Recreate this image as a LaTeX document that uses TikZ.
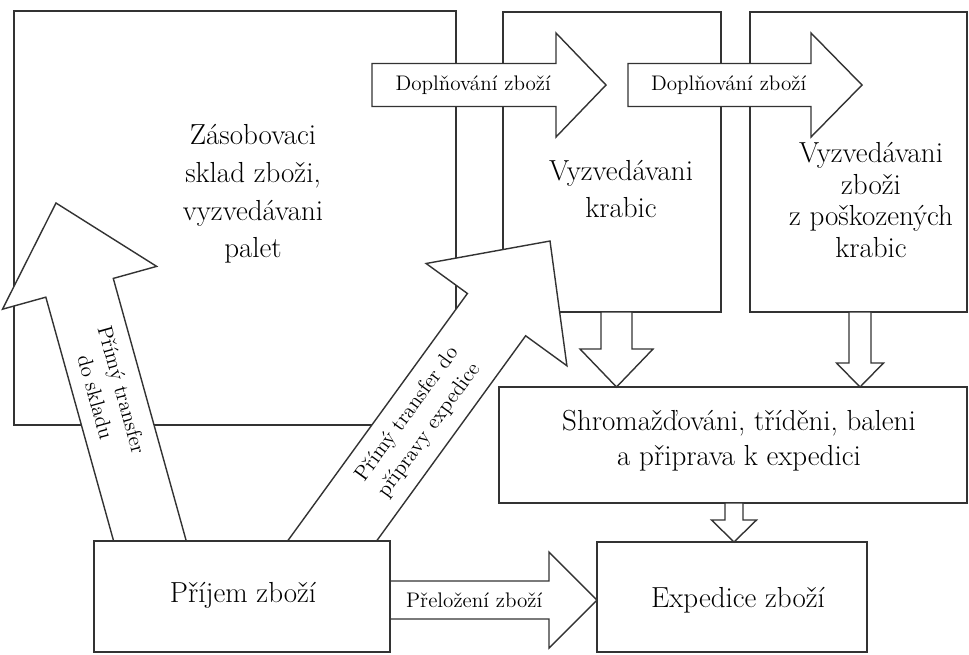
\documentclass[tikz,border=0pt]{standalone}
\usepackage{fontspec}
\usetikzlibrary{calc,fit}

\tikzset{
  box/.style={draw=black!80, line width=0.9pt, fill=white, inner sep=0pt},
  fatarrow/.style={draw=black!80, line width=0.8pt, fill=white, line join=miter},
  boxtext/.style={font=\rmfamily\fontsize{16.5}{21.5}\selectfont, align=center, inner sep=0pt},
  arrowlabel/.style={font=\rmfamily\fontsize{12}{15.5}\selectfont, align=center, inner sep=0pt},
}

% fat arrow: start, tip, shaft half width, head half width, head length, label pos, label
\newcommand{\fatarrow}[7]{%
  \coordinate (hb) at ($(#2)!#5*0.02cm!(#1)$);
  \draw[fatarrow] ($(#1)!#3*0.02cm!90:(#2)$) -- ($(hb)!#3*0.02cm!90:(#2)$)
    -- ($(hb)!#4*0.02cm!90:(#2)$) -- (#2) -- ($(hb)!#4*0.02cm!-90:(#2)$)
    -- ($(hb)!#3*0.02cm!-90:(#2)$) -- ($(#1)!#3*0.02cm!-90:(#2)$) -- cycle;
  \path (#1) -- (hb) node[arrowlabel, sloped, pos=#6] {#7};
}

\begin{document}
\begin{tikzpicture}[x=0.02cm, y=-0.02cm]
\useasboundingbox (0,0) rectangle (969,654);

% boxes under the arrows
\node[box, fit={(14,11) (456,425)}]  (sklad)   {};
\node[box, fit={(503,12) (721,312)}] (krabice) {};
\node[box, fit={(750,12) (967,312)}] (poskoz)  {};
\node[box, fit={(499,387) (967,503)}] (shrom)  {};
\node[box, fit={(597,542) (867,652)}] (exped)  {};

% arrow ends
\coordinate (dopl1s) at (372,85);   \coordinate (dopl1t) at (606,85);
\coordinate (dopl2s) at (628,85);   \coordinate (dopl2t) at (862,85);
\coordinate (sklads) at (158,570);  \coordinate (skladt) at (56,203);
\coordinate (prips)  at (311,570);  \coordinate (pript)  at (550,241);
\coordinate (kr2s)   at (616.5,312); \coordinate (kr2t)  at (616.5,387);
\coordinate (po2s)   at (860,312);  \coordinate (po2t)   at (860,387);
\coordinate (sh2s)   at (734,503);  \coordinate (sh2t)   at (734,542);
\coordinate (prels)  at (390,600);  \coordinate (prelt)  at (597,600);

\fatarrow{dopl1s}{dopl1t}{21.5}{52}{50}{0.55}{Doplňování zboží}
\fatarrow{dopl2s}{dopl2t}{21.5}{52}{51}{0.55}{Doplňování zboží}
\fatarrow{sklads}{skladt}{35}{80}{88}{0.626}{Přímý transfer\\do skladu}
\fatarrow{prips}{pript}{36}{87}{91}{0.578}{Přímý transfer do\\přípravy expedice}
\fatarrow{kr2s}{kr2t}{15.5}{36.5}{38}{0.5}{}
\fatarrow{po2s}{po2t}{11}{23.5}{24}{0.5}{}
\fatarrow{sh2s}{sh2t}{9}{22.5}{22}{0.5}{}
\fatarrow{prels}{prelt}{19}{48}{48}{0.53}{Přeložení zboží}

% box over the arrow starts
\node[box, fit={(94,541) (390,652)}] (prijem) {};

% texts
\node[boxtext] (skladtext)   at (253,194) {Zásobovaci\\sklad zboži,\\vyzvedávani\\palet};
\node[boxtext] (krabicetext) at (621,189) {Vyzvedávani\\krabic};
\node[boxtext, font=\fontsize{16.5}{18}\selectfont] (poskoztext) at (871,200)
  {Vyzvedávani\\zboži\\z poškozených\\krabic};
\node[boxtext, font=\fontsize{16.5}{19.8}\selectfont] (shromtext) at (739,441)
  {Shromažďováni, tříděni, baleni\\a připrava k expedici};
\node[boxtext] (expedtext)  at (738,600) {Expedice zboží};
\node[boxtext] (prijemtext) at (243,595) {Příjem zboží};
\end{tikzpicture}
\end{document}
